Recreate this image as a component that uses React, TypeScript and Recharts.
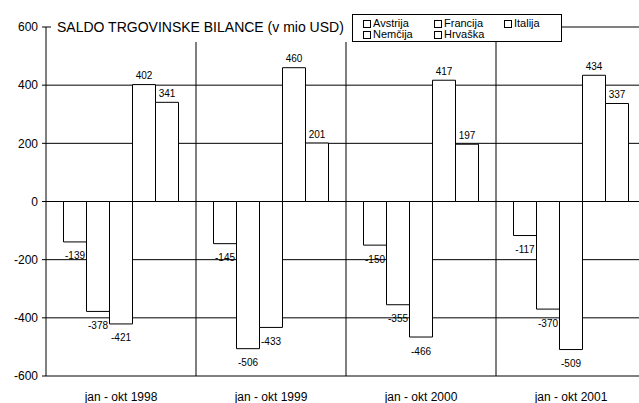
import { BarChart, Bar, XAxis, YAxis, CartesianGrid, LabelList } from 'recharts'

const periods = ['jan - okt 1998', 'jan - okt 1999', 'jan - okt 2000', 'jan - okt 2001']
const countries = ['Avstrija', 'Francija', 'Italija', 'Nemčija', 'Hrvaška']
const avstrija = [-139, -145, -150, -117]
const francija = [-378, -506, -355, -370]
const italija = [-421, -433, -466, -509]
const nemcija = [402, 460, 417, 434]
const hrvaska = [341, 201, 197, 337]
const yTicks = [-600, -400, -200, 0, 200, 400, 600]

const series = [avstrija, francija, italija, nemcija, hrvaska]

const data = periods.map((p, i) => {
  const row: any = { period: p }
  countries.forEach((c, k) => {
    row[c] = series[k][i]
  })
  return row
})

const FONT = '"Liberation Sans", Arial, sans-serif'

function ValueLabel(props: any) {
  const vb = props.viewBox ?? props
  const x = props.x ?? vb.x
  const y = props.y ?? vb.y
  const width = props.width ?? vb.width
  const height = props.height ?? vb.height
  const value = props.value
  const top = Math.min(y, y + height)
  const bottom = Math.max(y, y + height)
  const cy = value >= 0 ? top - 9 : bottom + 14
  return (
    <text
      x={x + width / 2}
      y={cy}
      textAnchor="middle"
      dominantBaseline="central"
      fontSize={10}
      fontFamily={FONT}
      fill="#000"
    >
      {value}
    </text>
  )
}

function LegendBox() {
  const cols = [0, 71, 141]
  return (
    <div
      style={{
        position: 'absolute',
        left: 352,
        top: 14,
        width: 210,
        height: 28,
        border: '1px solid #000',
        background: '#fff',
        boxSizing: 'border-box',
        fontFamily: FONT,
        fontSize: 11,
        color: '#000',
      }}
    >
      {countries.map((c, k) => (
        <div
          key={c}
          style={{
            position: 'absolute',
            left: 10 + cols[k % 3],
            top: k < 3 ? 3 : 14,
            display: 'flex',
            alignItems: 'center',
            lineHeight: '11px',
          }}
        >
          <span
            style={{
              display: 'inline-block',
              width: 6,
              height: 6,
              border: '1px solid #000',
              background: '#fff',
              marginRight: 2,
            }}
          />
          <span>{c}</span>
        </div>
      ))}
    </div>
  )
}

export default function App() {
  return (
    <div
      style={{
        position: 'fixed',
        left: 0,
        top: 0,
        width: 639,
        height: 403,
        overflow: 'hidden',
        background: '#fff',
      }}
    >
      <BarChart
        width={660}
        height={403}
        data={data}
        margin={{ top: 27, right: 14, bottom: 0, left: 0 }}
        barGap={0}
        barCategoryGap={17.5}
      >
        <CartesianGrid
          stroke="#000"
          horizontal={true}
          vertical={true}
          verticalCoordinatesGenerator={({ offset }: any) =>
            [1, 2, 3, 4].map((k) => offset.left + (k * offset.width) / 4)
          }
        />
        <XAxis
          dataKey="period"
          axisLine={false}
          tickLine={false}
          tickMargin={10}
          height={27}
          tick={{ fontSize: 12, fill: '#000', fontFamily: FONT }}
        />
        <YAxis
          domain={[-600, 600]}
          ticks={yTicks}
          width={46}
          interval={0}
          tickSize={4}
          tickMargin={4}
          axisLine={{ stroke: '#000' }}
          tickLine={{ stroke: '#000' }}
          tick={{ fontSize: 12, fill: '#000', fontFamily: FONT }}
        />
        {countries.map((c) => (
          <Bar key={c} dataKey={c} fill="#fff" stroke="#000" strokeWidth={1} isAnimationActive={false}>
            <LabelList dataKey={c} content={ValueLabel} />
          </Bar>
        ))}
      </BarChart>
      <div
        style={{
          position: 'absolute',
          left: 51,
          top: 14,
          width: 301,
          height: 28,
          background: '#fff',
          fontFamily: FONT,
          fontSize: 14,
          color: '#000',
          lineHeight: '26px',
          paddingLeft: 6,
          boxSizing: 'border-box',
          whiteSpace: 'nowrap',
        }}
      >
        SALDO TRGOVINSKE BILANCE (v mio USD)
      </div>
      <LegendBox />
    </div>
  )
}
